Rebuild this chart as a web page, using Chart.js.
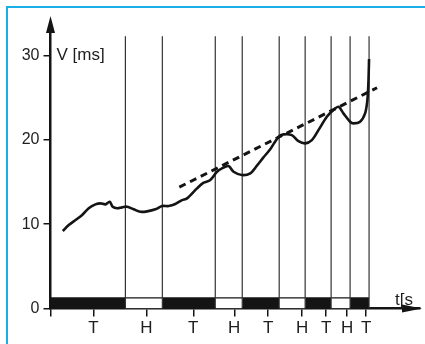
<!DOCTYPE html>
<html>
<head>
<meta charset="utf-8">
<script src="https://cdn.jsdelivr.net/npm/chart.js@4/dist/chart.umd.min.js"></script>
<style>
  html, body { margin: 0; padding: 0; background: #fff; }
  #wrap { position: relative; width: 425px; height: 344px; }
  #frame {
    position: absolute; left: 6px; top: 6px; right: 0; bottom: 0;
    border-top: 2px solid #1aaee6; border-left: 2px solid #1aaee6;
  }
  canvas { position: absolute; left: 0; top: 0; }
</style>
</head>
<body>
<div id="wrap">
  <div id="frame"></div>
  <canvas id="chart" width="425" height="344"></canvas>
</div>
<script>
// phase boundaries on the time axis, and what each phase is
const boundaries = [0, 75, 112, 165, 192, 229, 255, 281, 300, 319];
const phases = ['T', 'H', 'T', 'H', 'T', 'H', 'T', 'H', 'T'];

// tick labels under the time axis
const tickValues = [0, 43, 96, 143, 184, 218, 252, 276, 297, 316];
const tickLabels = ['', 'T', 'H', 'T', 'H', 'T', 'H', 'T', 'H', 'T'];
const yTicks = [0, 10, 20, 30];

// measured V curve
const timeValues = [12.3, 18.3, 25, 31.7, 38.3, 45, 50, 55, 59.3, 62.3, 66.7, 71.7, 76.7,
  83.3, 90, 96.7, 105, 111.7, 118.3, 125, 131.7, 136.7, 146.7, 153, 160, 166.7, 171.7,
  178.3, 183.3, 191.7, 200, 206.7, 213, 220, 228.3, 233.3, 241.7, 248.3, 255, 261.7,
  268.3, 276.7, 283.3, 288.3, 293.3, 300, 303.3, 310, 315, 317.3, 318.3, 319];
const vValues = [9.2, 9.9, 10.5, 11.1, 11.9, 12.36, 12.48, 12.36, 12.67, 12.08, 11.89, 12.0, 12.08,
  11.77, 11.48, 11.53, 11.77, 12.16, 12.16, 12.4, 12.87, 13.07, 14.26, 14.9, 15.24, 16.23, 16.63,
  16.9, 16.23, 15.84, 16.04, 16.95, 17.9, 18.9, 20.38, 20.66, 20.58, 19.87, 19.6, 19.99,
  21.17, 22.75, 23.55, 23.94, 23.16, 22.16, 21.97, 22.16, 23.16, 24.73, 26.71, 29.6];

// dashed trend line
const trendT = [129, 327];
const trendV = [14.4, 26.2];

const bandHeight = 1.25;
const lineTop = 32.3;
const ink = '#141414';
const fontFamily = "'Liberation Sans', Arial, sans-serif";

const datasets = [];

datasets.push({
  data: timeValues.map((t, i) => ({ x: t, y: vValues[i] })),
  borderColor: ink,
  borderWidth: 2.6,
  tension: 0.3,
  pointRadius: 0,
  order: 0
});

datasets.push({
  data: trendT.map((t, i) => ({ x: t, y: trendV[i] })),
  borderColor: ink,
  borderWidth: 3,
  borderDash: [7, 5],
  pointRadius: 0,
  order: 1
});

boundaries.slice(1).forEach((b) => {
  datasets.push({
    data: [{ x: b, y: 0 }, { x: b, y: lineTop }],
    borderColor: '#333',
    borderWidth: 1.2,
    pointRadius: 0,
    order: 2
  });
});

phases.forEach((p, i) => {
  datasets.push({
    data: [{ x: boundaries[i], y: bandHeight }, { x: boundaries[i + 1], y: bandHeight }],
    borderColor: ink,
    borderWidth: 1.2,
    backgroundColor: p === 'T' ? ink : '#fff',
    fill: 'origin',
    pointRadius: 0,
    order: 3
  });
});

const axisDecor = {
  id: 'axisDecor',
  afterDraw(chart) {
    const { ctx, chartArea: a } = chart;
    ctx.save();
    ctx.fillStyle = ink;
    ctx.strokeStyle = ink;
    ctx.lineWidth = 2.5;
    // y arrow
    ctx.beginPath();
    ctx.moveTo(a.left, a.top + 2);
    ctx.lineTo(a.left, 22);
    ctx.stroke();
    ctx.beginPath();
    ctx.moveTo(a.left, 16);
    ctx.lineTo(a.left - 4.5, 33);
    ctx.lineTo(a.left + 4.5, 33);
    ctx.closePath();
    ctx.fill();
    // x arrow
    ctx.beginPath();
    ctx.moveTo(a.right + 2, a.bottom);
    ctx.lineTo(a.right - 18, a.bottom - 4);
    ctx.lineTo(a.right - 18, a.bottom + 4);
    ctx.closePath();
    ctx.fill();
    // axis titles
    ctx.fillStyle = '#1e1e1e';
    ctx.font = '17px ' + fontFamily;
    ctx.textBaseline = 'middle';
    ctx.textAlign = 'left';
    const y30 = chart.scales.y.getPixelForValue(30);
    ctx.fillText('V [ms]', a.left + 6, y30);
    ctx.textBaseline = 'alphabetic';
    ctx.fillText('t[s', 395, a.bottom - 4);
    ctx.restore();
  }
};

new Chart(document.getElementById('chart'), {
  type: 'scatter',
  data: { datasets },
  options: {
    responsive: false,
    animation: false,
    showLine: true,
    layout: { padding: { top: 22, right: 5, left: 0, bottom: 0 } },
    plugins: { legend: { display: false }, tooltip: { enabled: false } },
    scales: {
      x: {
        type: 'linear',
        min: 0,
        max: 370,
        afterFit: (s) => { s.height = 35.5; },
        afterBuildTicks: (s) => { s.ticks = tickValues.map((v) => ({ value: v })); },
        border: { display: true, width: 2.5, color: ink },
        grid: { drawOnChartArea: false, drawTicks: true, tickLength: 8, color: ink, lineWidth: 1.5 },
        ticks: {
          autoSkip: false,
          maxRotation: 0,
          padding: 2,
          color: '#1e1e1e',
          font: { family: fontFamily, size: 17 },
          callback: (v, i) => tickLabels[i]
        }
      },
      y: {
        type: 'linear',
        min: 0,
        max: 34,
        afterFit: (s) => { s.width = 50.5; },
        afterBuildTicks: (s) => { s.ticks = yTicks.map((v) => ({ value: v })); },
        border: { display: true, width: 2.5, color: ink },
        grid: { drawOnChartArea: false, drawTicks: true, tickLength: 7, color: ink, lineWidth: 1.5 },
        ticks: {
          padding: 4,
          color: '#1e1e1e',
          font: { family: fontFamily, size: 16 }
        }
      }
    }
  },
  plugins: [axisDecor]
});
</script>
</body>
</html>
